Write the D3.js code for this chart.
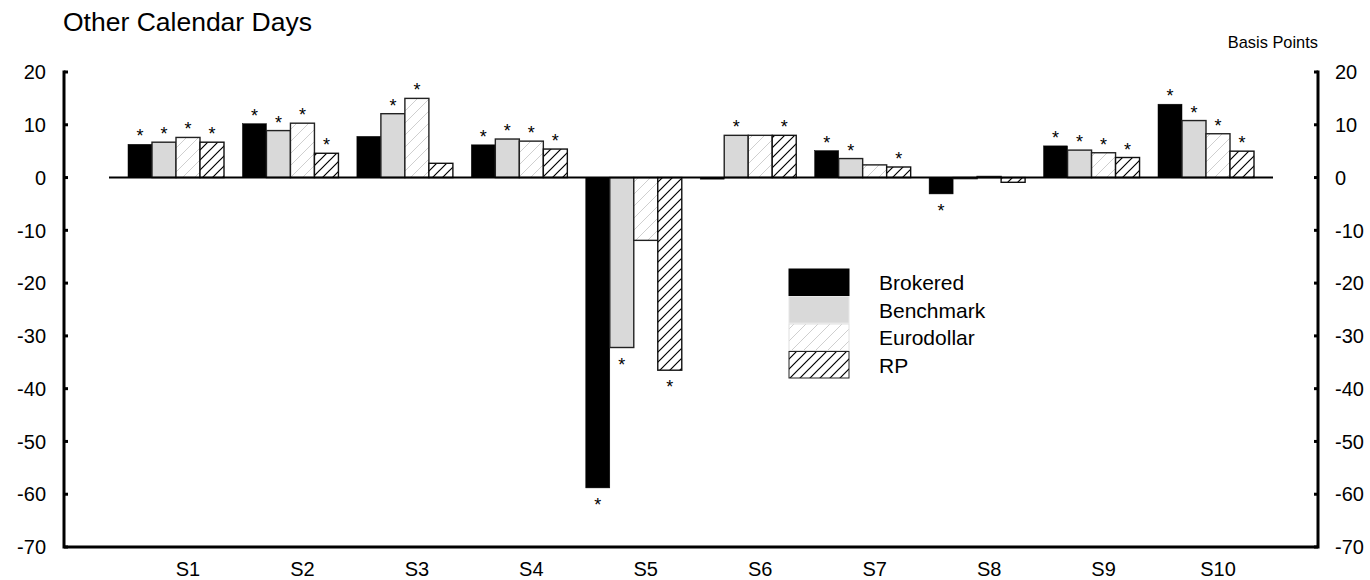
<!DOCTYPE html>
<html><head><meta charset="utf-8">
<script src="https://cdn.jsdelivr.net/npm/d3@7"></script>
<style>body{margin:0;background:#fff}svg{display:block;font-family:Arial,"Liberation Sans",sans-serif}</style>
</head><body><svg id="c" width="1370" height="580"></svg>
<script>
const categories = ["S1","S2","S3","S4","S5","S6","S7","S8","S9","S10"];
const seriesNames = ["Brokered","Benchmark","Eurodollar","RP"];
const brokered   = [6.3, 10.2, 7.8, 6.2, -58.8, -0.3, 5.1, -3.1, 6.0, 13.9];
const benchmark  = [6.7, 8.9, 12.1, 7.3, -32.2, 8.0, 3.6, -0.2, 5.2, 10.8];
const eurodollar = [7.6, 10.3, 15.0, 6.9, -11.9, 8.0, 2.4, 0.2, 4.7, 8.3];
const rp         = [6.7, 4.6, 2.7, 5.4, -36.5, 8.0, 2.0, -0.9, 3.8, 5.0];
// significance stars (1 = starred)
const starBrokered   = [1,1,0,1,1,0,1,1,1,1];
const starBenchmark  = [1,1,1,1,1,1,1,0,1,1];
const starEurodollar = [1,1,1,1,0,0,0,0,1,1];
const starRp         = [1,1,0,1,1,1,1,0,1,1];
const yTicks = [20,10,0,-10,-20,-30,-40,-50,-60,-70];

const values = [brokered, benchmark, eurodollar, rp];
const stars = [starBrokered, starBenchmark, starEurodollar, starRp];
const fills = ["#000","#d9d9d9","url(#hEuro)","url(#hRp)"];
const strokes = ["#000","#222","#222","#111"];

const svg = d3.select("#c");
const defs = svg.append("defs");
function hatch(id, size, bg, color, w){
  const p = defs.append("pattern").attr("id",id).attr("patternUnits","userSpaceOnUse")
    .attr("width",size).attr("height",size);
  p.append("rect").attr("width",size).attr("height",size).attr("fill",bg);
  p.append("path").attr("d",`M0,${size} L${size},0 M${-size/2},${size/2} L${size/2},${-size/2} M${size/2},${size*1.5} L${size*1.5},${size/2}`)
    .attr("stroke",color).attr("stroke-width",w);
}
hatch("hEuro", 12, "#fff", "#cfcfcf", 1);
hatch("hRp", 10, "#fff", "#000", 1.2);

const L = 64, R = 1318, T = 72, B = 547;
const y = d3.scaleLinear().domain([-70,20]).range([B,T]);
const x = d3.scalePoint().domain(categories).range([176,1206]);
const xs = d3.scaleBand().domain(seriesNames).range([-48,48]);

// title
svg.append("text").attr("x",63).attr("y",31).attr("font-size",26.5).text("Other Calendar Days");
svg.append("text").attr("x",1318).attr("y",48).attr("text-anchor","end").attr("font-size",16.4).text("Basis Points");

// bars
seriesNames.forEach((s,si)=>{
  const g = svg.append("g");
  categories.forEach((c,ci)=>{
    const v = values[si][ci];
    const x0 = x(c)+xs(s);
    const y0 = y(Math.max(0,v)), y1 = y(Math.min(0,v));
    g.append("rect").attr("x",x0).attr("y",y0).attr("width",xs.bandwidth()).attr("height",Math.max(0.8,y1-y0))
      .attr("fill",fills[si]).attr("stroke",strokes[si]).attr("stroke-width",si===0?0.5:1.4);
    if(stars[si][ci]){
      g.append("text").attr("x",x0+xs.bandwidth()/2).attr("y", v>=0 ? y(v)-2 : y(v)+23)
        .attr("text-anchor","middle").attr("font-size",18).text("*");
    }
  });
});

// zero baseline
svg.append("line").attr("x1",x(categories[0])-67).attr("x2",x(categories[categories.length-1])+67)
  .attr("y1",y(0)).attr("y2",y(0)).attr("stroke","#000").attr("stroke-width",2);

// axes
const ax = svg.append("g").attr("stroke","#000").attr("stroke-width",3).attr("fill","none");
ax.append("path").attr("d",`M${L},${T} V${B} H${R} V${T}`).attr("stroke-linecap","square");
yTicks.forEach(t=>{
  ax.append("line").attr("x1",L).attr("x2",L+4).attr("y1",y(t)).attr("y2",y(t));
  ax.append("line").attr("x1",R-4).attr("x2",R).attr("y1",y(t)).attr("y2",y(t));
  svg.append("text").attr("x",46).attr("y",y(t)).attr("dy","0.36em").attr("text-anchor","end").attr("font-size",20).text(t);
  svg.append("text").attr("x",1335).attr("y",y(t)).attr("dy","0.36em").attr("font-size",20).text(t);
});
categories.forEach(c=>{
  svg.append("text").attr("x",x(c)+12).attr("y",576).attr("text-anchor","middle").attr("font-size",20).text(c);
});

// legend
const lg = svg.append("g").attr("transform","translate(789,269)");
const legStroke = ["#000","#e6e6e6","#e0e0e0","#222"];
seriesNames.forEach((s,i)=>{
  lg.append("rect").attr("x",0).attr("y",i*27.5).attr("width",60).attr("height",26.5)
    .attr("fill",fills[i]).attr("stroke",legStroke[i]).attr("stroke-width",1);
  lg.append("text").attr("x",90).attr("y",i*27.5+13.5).attr("dy","0.36em").attr("font-size",21).text(s);
});
</script></body></html>
